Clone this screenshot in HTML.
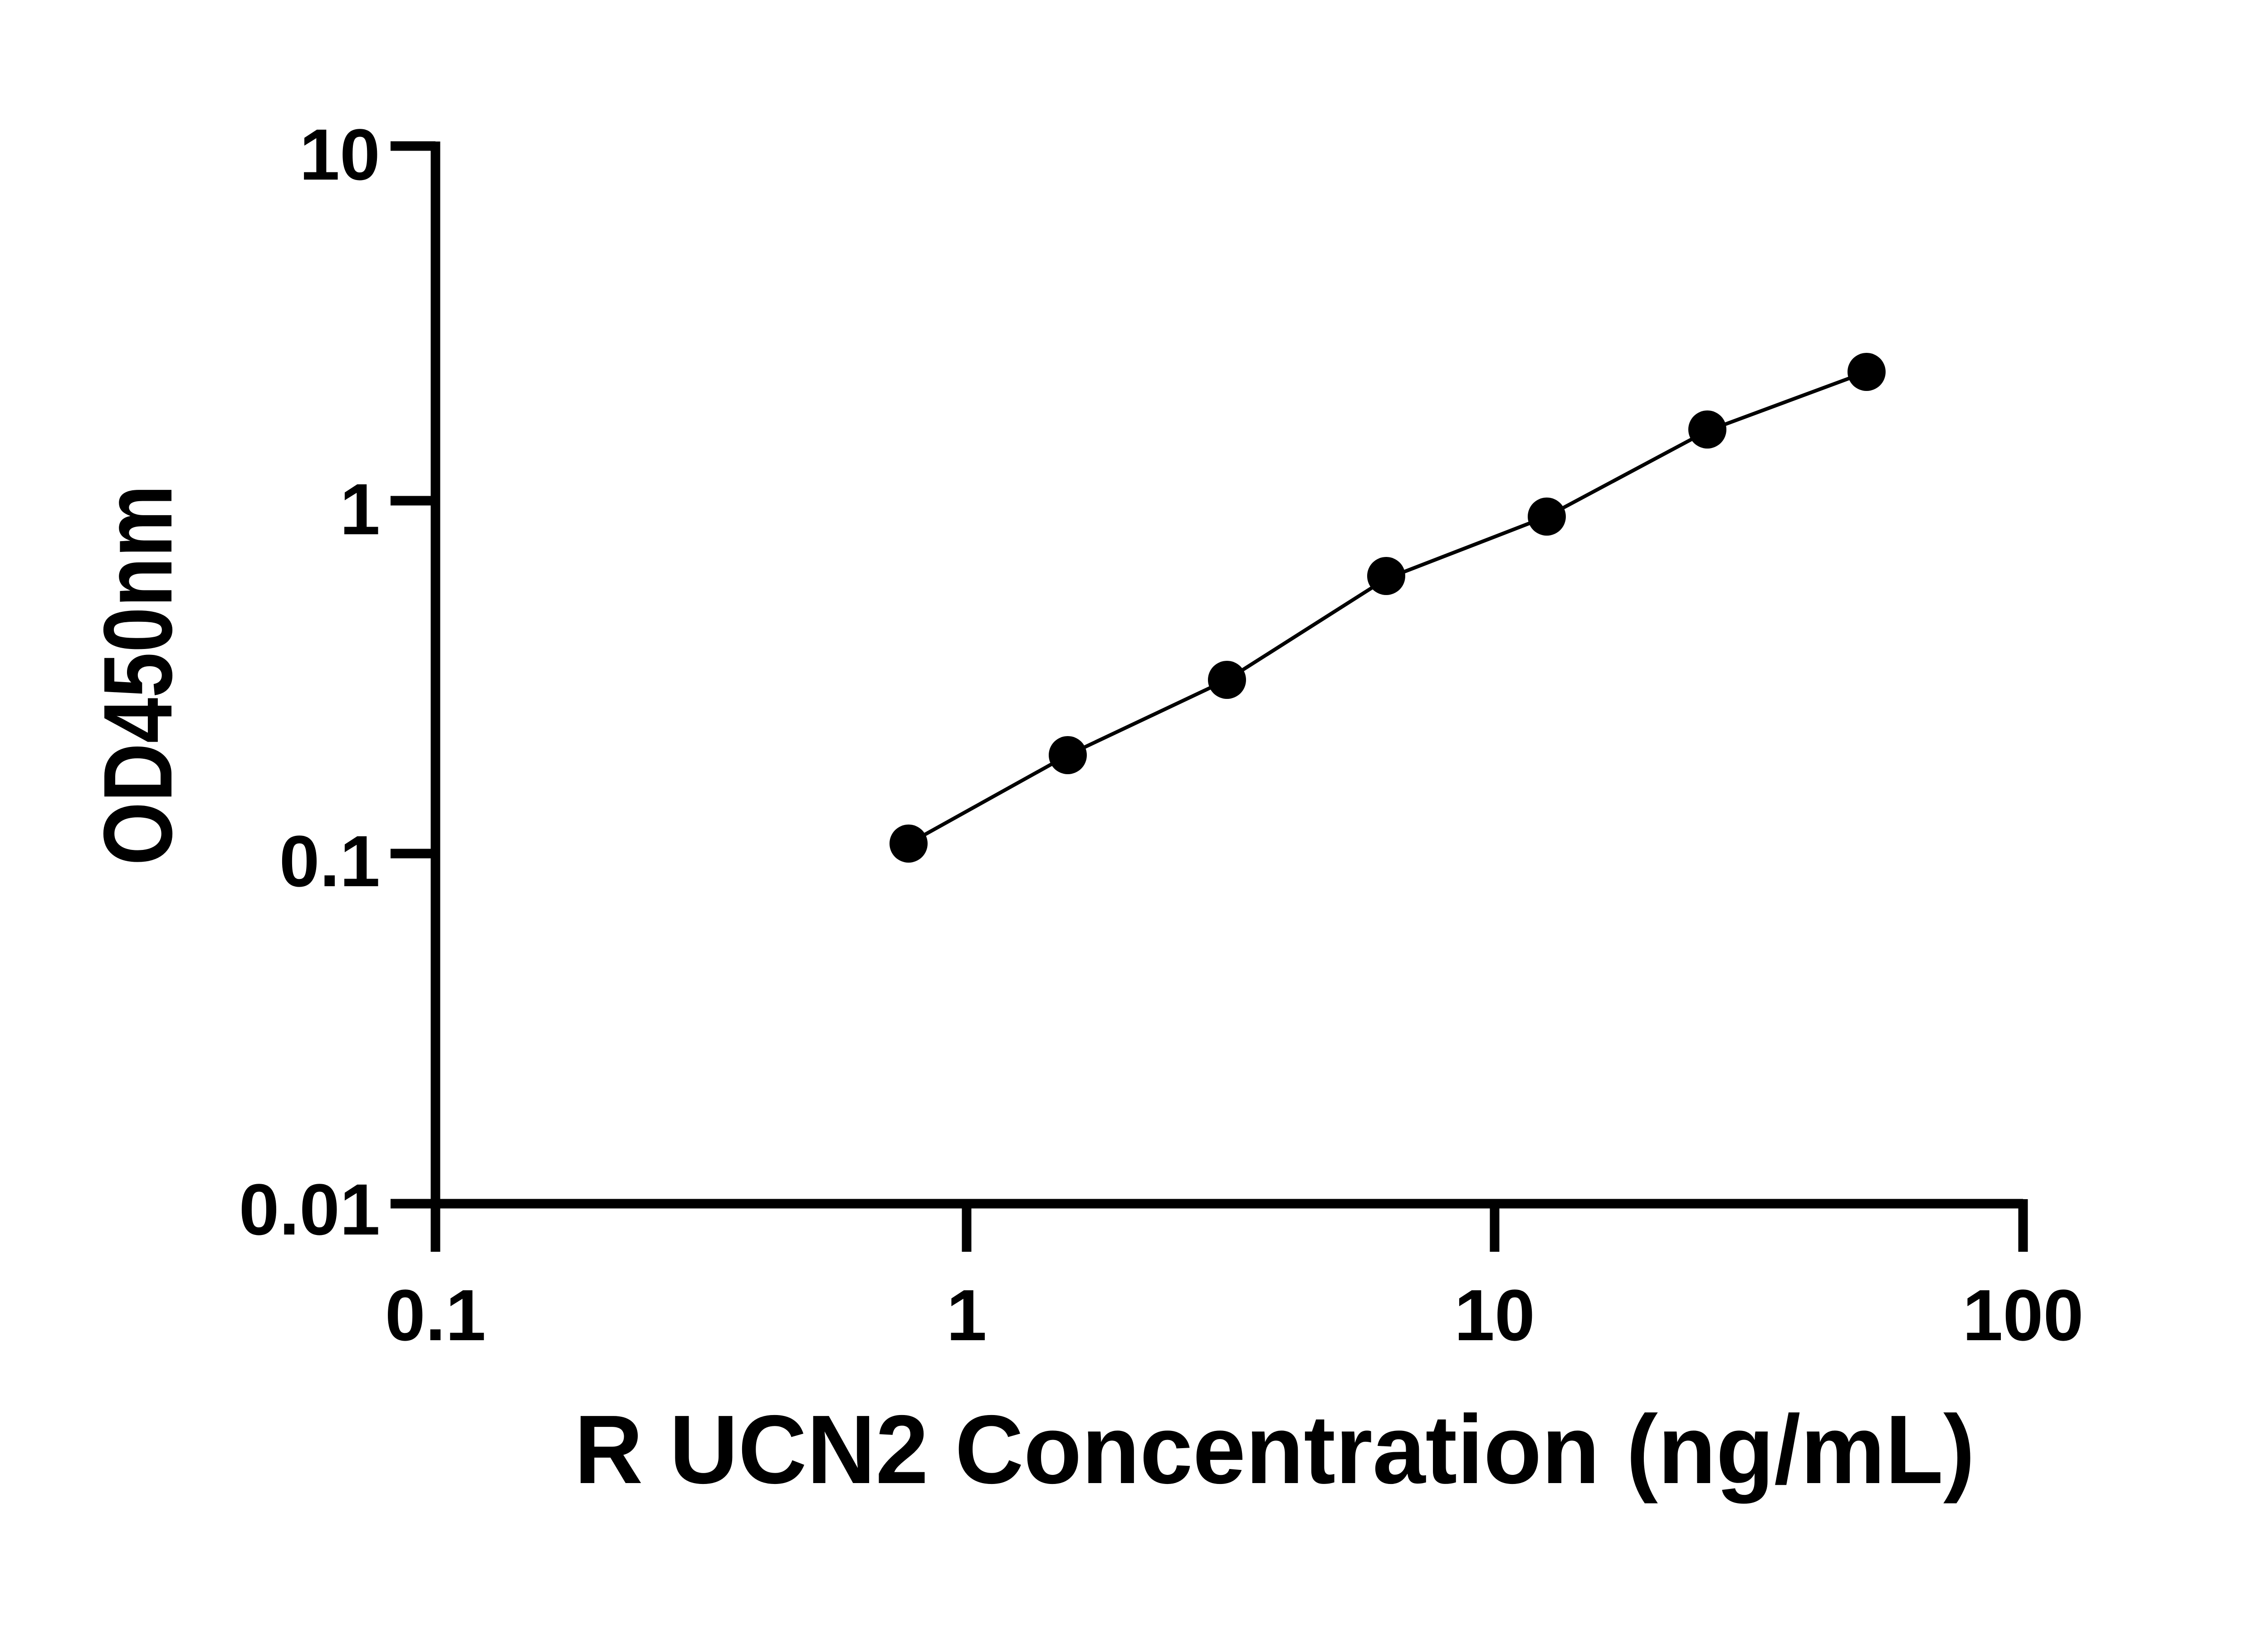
<!DOCTYPE html>
<html><head><style>html,body{margin:0;padding:0;background:#fff}</style></head>
<body>
<svg width="5142" height="3600" viewBox="0 0 5142 3600" xmlns="http://www.w3.org/2000/svg" font-family="Liberation Sans, sans-serif" font-weight="bold">
<g stroke="#000" stroke-width="21" fill="none">
<line x1="960" y1="312" x2="960" y2="2760"/>
<line x1="861" y1="2654" x2="4460" y2="2654"/>
<line x1="861" y1="322" x2="960" y2="322"/>
<line x1="861" y1="1104" x2="960" y2="1104"/>
<line x1="861" y1="1882" x2="960" y2="1882"/>
<line x1="2131" y1="2654" x2="2131" y2="2760"/>
<line x1="3295" y1="2654" x2="3295" y2="2760"/>
<line x1="4460" y1="2644" x2="4460" y2="2760"/>
</g>
<polyline fill="none" stroke="#000" stroke-width="8" stroke-linejoin="round" points="2003,1860 2354,1665 2705,1499 3056,1276 3410,1139 3764,950 4115,820"/>
<g fill="#000">
<circle cx="2003" cy="1860" r="42"/><circle cx="2354" cy="1665" r="42"/><circle cx="2705" cy="1499" r="42"/><circle cx="3056" cy="1270" r="42"/><circle cx="3410" cy="1139" r="42"/><circle cx="3764" cy="947" r="42"/><circle cx="4115" cy="820" r="42"/>
</g>
<g font-size="160" text-anchor="end">
<text x="838" y="396">10</text>
<text x="838" y="1178">1</text>
<text x="838" y="1954">0.1</text>
<text x="838" y="2722">0.01</text>
</g>
<g font-size="160" text-anchor="middle">
<text x="960" y="2955">0.1</text>
<text x="2131" y="2955">1</text>
<text x="3295" y="2955">10</text>
<text x="4460" y="2955">100</text>
</g>
<text x="1266" y="3270" font-size="215" textLength="3088" lengthAdjust="spacingAndGlyphs">R UCN2 Concentration (ng/mL)</text>
<text transform="translate(378,1908) rotate(-90)" font-size="215" textLength="839" lengthAdjust="spacingAndGlyphs">OD450nm</text>
</svg>
</body></html>
